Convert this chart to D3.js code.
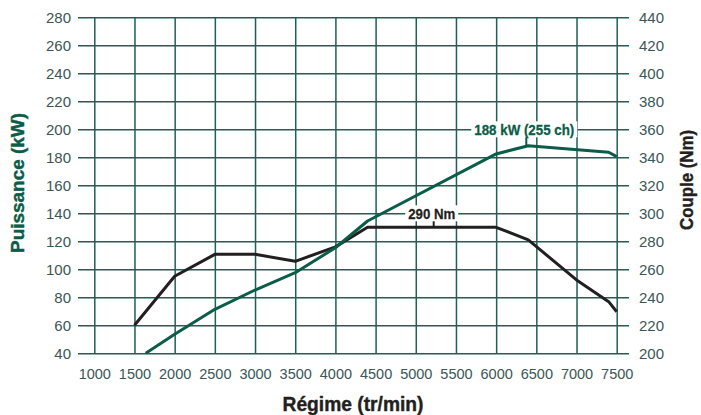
<!DOCTYPE html>
<html><head><meta charset="utf-8">
<script src="https://cdn.jsdelivr.net/npm/d3@7"></script>
<style>
html,body{margin:0;padding:0;background:#fff;}
svg{display:block;}
</style></head>
<body>
<svg id="c" width="701" height="415"></svg>
<script>
const rpmTicks = [1000,1500,2000,2500,3000,3500,4000,4500,5000,5500,6000,6500,7000,7500];
const powerTicks = [40,60,80,100,120,140,160,180,200,220,240,260,280];
const torqueTicks = [200,220,240,260,280,300,320,340,360,380,400,420,440];

const rpmPower = [1640, 2000, 2500, 3000, 3500, 4000, 4400, 6000, 6400, 7400, 7500];
const power    = [40, 53.6, 71.4, 85.2, 97.6, 115.4, 134.5, 182.4, 188.3, 183.6, 180.5];

const rpmTorque = [1500, 2000, 2500, 3000, 3500, 4000, 4400, 6000, 6400, 7000, 7400, 7500];
const torque    = [220, 255, 270.7, 270.7, 265.7, 276, 290, 290, 281, 252.4, 236.9, 229.7];

const peakPower = {rpm: 6400, value: 188, label: "188 kW (255 ch)", at: 200};
const peakTorque = {rpm: 5200, value: 290, label: "290 Nm", at: 300};

const GRID = "#1f5f55";
const GREEN = "#0b5c48";
const BLACK = "#231f20";
const TICKTXT = "#3b5656";
const FONT = "'Liberation Sans',Arial,sans-serif";

const svg = d3.select("#c");
const x = d3.scaleLinear().domain([1000,7500]).range([94.3,616.7]);
const yL = d3.scaleLinear().domain([40,280]).range([353.3,17.3]);
const yR = d3.scaleLinear().domain([200,440]).range([353.3,17.3]);
const gridLeft = 78, gridRight = 629;

// left axis with horizontal gridlines
const gl = svg.append("g").attr("transform",`translate(${gridLeft},0)`)
  .call(d3.axisLeft(yL).tickValues(powerTicks).tickSize(-(gridRight-gridLeft)).tickPadding(7).tickFormat(d3.format("d")));
gl.select(".domain").remove();
gl.selectAll(".tick line").attr("stroke",GRID).attr("stroke-width",1.5);
gl.selectAll(".tick text").attr("fill",TICKTXT).style("font-family",FONT).style("font-size","15px");

// right axis
const gr = svg.append("g").attr("transform",`translate(${gridRight},0)`)
  .call(d3.axisRight(yR).tickValues(torqueTicks).tickSize(0).tickPadding(10).tickFormat(d3.format("d")));
gr.select(".domain").remove();
gr.selectAll(".tick text").attr("fill",TICKTXT).style("font-family",FONT).style("font-size","15px");

// bottom axis with vertical gridlines
const gb = svg.append("g").attr("transform",`translate(0,${yL(40)})`)
  .call(d3.axisBottom(x).tickValues(rpmTicks).tickSize(-(yL(40)-yL(280))).tickPadding(15).tickFormat(d3.format("d")));
gb.select(".domain").remove();
gb.selectAll(".tick line").attr("stroke",GRID).attr("stroke-width",1.5);
gb.selectAll(".tick text").attr("fill",TICKTXT).style("font-family",FONT).style("font-size","14.5px");

// lines
const lineP = d3.line().x((d,i)=>x(rpmPower[i])).y(d=>yL(d));
const lineT = d3.line().x((d,i)=>x(rpmTorque[i])).y(d=>yR(d));
svg.append("path").datum(torque).attr("d",lineT).attr("fill","none").attr("stroke",BLACK).attr("stroke-width",3).attr("stroke-linejoin","round");
svg.append("path").datum(power).attr("d",lineP).attr("fill","none").attr("stroke",GREEN).attr("stroke-width",3).attr("stroke-linejoin","round");

// annotations
function annot(cx, cyLabel, yPoint, text, color, len){
  const g = svg.append("g");
  g.append("rect").attr("x",cx-len/2-3).attr("y",cyLabel-8).attr("width",len+6).attr("height",16).attr("fill","#fff");
  g.append("text").attr("x",cx).attr("y",cyLabel).attr("dy","0.36em")
    .attr("text-anchor","middle").attr("fill",color).attr("stroke",color).attr("stroke-width",0.3)
    .attr("textLength",len).attr("lengthAdjust","spacingAndGlyphs")
    .style("font-family",FONT).style("font-weight","bold").style("font-size","15.5px").text(text);
  g.append("line").attr("x1",cx+2).attr("x2",cx+2).attr("y1",cyLabel+8).attr("y2",yPoint).attr("stroke",color).attr("stroke-width",2);
}
annot(x(peakPower.rpm)-4, yL(peakPower.at), yL(peakPower.value), peakPower.label, GREEN, 100);
annot(431.7, yR(peakTorque.at), yR(peakTorque.value), peakTorque.label, BLACK, 47);

// axis titles
svg.append("text").attr("x",353).attr("y",411).attr("text-anchor","middle").attr("fill",BLACK).attr("stroke",BLACK).attr("stroke-width",0.4)
  .attr("textLength",141).attr("lengthAdjust","spacingAndGlyphs")
  .style("font-family",FONT).style("font-weight","bold").style("font-size","20px").text("Régime (tr/min)");
svg.append("text").attr("transform","translate(24,183) rotate(-90)").attr("text-anchor","middle").attr("fill",GREEN).attr("stroke",GREEN).attr("stroke-width",0.4)
  .attr("textLength",140).attr("lengthAdjust","spacingAndGlyphs")
  .style("font-family",FONT).style("font-weight","bold").style("font-size","18px").text("Puissance (kW)");
svg.append("text").attr("transform","translate(693,180) rotate(-90)").attr("text-anchor","middle").attr("fill",BLACK).attr("stroke",BLACK).attr("stroke-width",0.4)
  .attr("textLength",100).attr("lengthAdjust","spacingAndGlyphs")
  .style("font-family",FONT).style("font-weight","bold").style("font-size","18px").text("Couple (Nm)");
</script>
</body></html>
